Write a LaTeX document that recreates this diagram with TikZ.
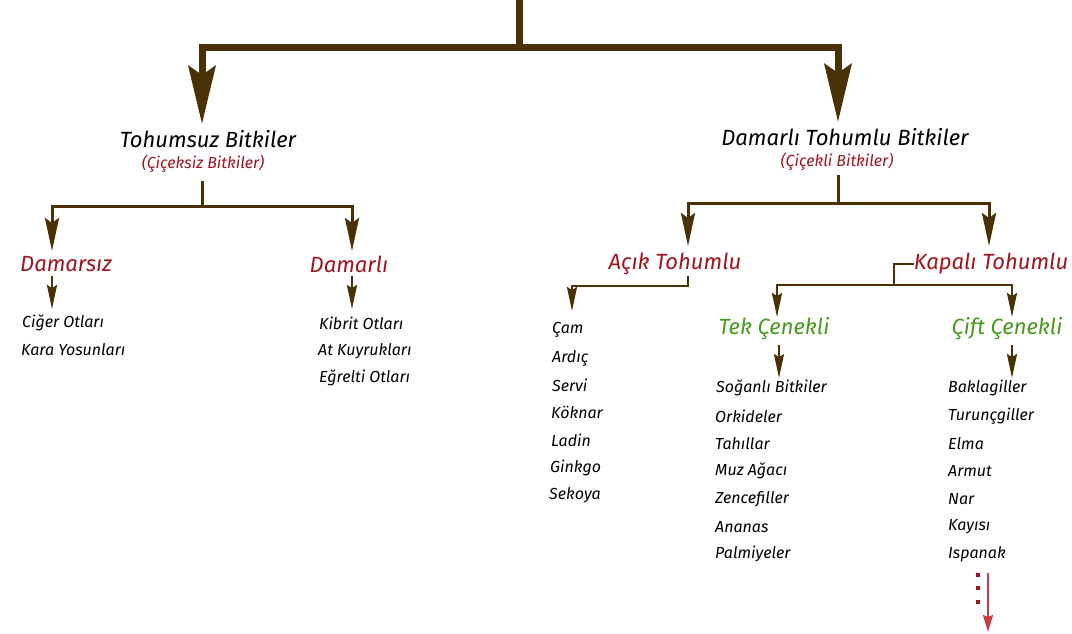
\documentclass[tikz,border=0pt]{standalone}
\usepackage{fontspec}
\setmainfont{Fira Sans}
\usetikzlibrary{arrows.meta}
\definecolor{brn}{HTML}{4B3106}
\definecolor{rd}{HTML}{A0141E}
\definecolor{gr}{HTML}{479A1C}
\definecolor{lrd}{HTML}{C4403F}
\tikzset{
  fsz/.style={font=\fontsize{#1}{#1}\selectfont\itshape},
  head/.style={fsz=22, text=black, inner sep=0pt},
  sub/.style={fsz=16, text=rd, inner sep=0pt},
  cat/.style={fsz=22, text=rd, inner sep=0pt},
  grn/.style={fsz=22, text=gr, inner sep=0pt},
  item/.style={fsz=16, text=black, inner sep=0pt, anchor=west},
  bigline/.style={draw=brn, line width=7pt, line join=miter},
  bigarr/.style={bigline, -{Stealth[length=58pt,width=27pt,inset=9pt]}},
  midline/.style={draw=brn, line width=3pt},
  midarr/.style={midline, -{Stealth[length=33pt,width=14pt,inset=5pt]}},
  smline/.style={draw=brn, line width=2.2pt},
  smarr/.style={smline, -{Stealth[length=24pt,width=10pt,inset=3pt]}},
}
\begin{document}
\begin{tikzpicture}[x=1pt,y=-1pt]
\useasboundingbox (0,0) rectangle (1072,633);
% level 1
\node[head] (tb) at (208,139) {Tohumsuz Bitkiler};
\node[sub]  (tbs) at (203,164) {(Çiçeksiz Bitkiler)};
\node[head] (dt) at (845,137) {Damarlı Tohumlu Bitkiler};
\node[sub]  (dts) at (837,162) {(Çiçekli Bitkiler)};
% level 2
\node[cat] (dz) at (66,264) {Damarsız};
\node[cat] (dl) at (349,264) {Damarlı};
\node[cat] (ac) at (675,264) {Açık Tohumlu};
\node[cat] (kp) at (991,264) {Kapalı Tohumlu};
% level 3
\node[grn] (tk) at (774,329) {Tek Çenekli};
\node[grn] (cf) at (1007,329) {Çift Çenekli};
% top connectors
\coordinate (root) at (519,0);
\coordinate (hub) at (519,47);
\coordinate (tbtip) at (202,124);
\coordinate (dttip) at (838,122);
\draw[bigline] (root) -- (hub);
\draw[bigarr] (hub) -| (tbtip);
\draw[bigarr] (hub) -| (dttip);
% under Tohumsuz
\coordinate (tbtop) at (202,181);
\coordinate (tbhub) at (202,206);
\coordinate (dztip) at (52,251);
\coordinate (dltip) at (352,251);
\draw[midline] (tbtop) -- (tbhub);
\draw[midarr] (tbhub) -| (dztip);
\draw[midarr] (tbhub) -| (dltip);
% under Damarli Tohumlu
\coordinate (dttop) at (838,175);
\coordinate (dthub) at (838,203);
\coordinate (actip) at (688,246);
\coordinate (kptip) at (989,246);
\draw[midline] (dttop) -- (dthub);
\draw[midarr] (dthub) -| (actip);
\draw[midarr] (dthub) -| (kptip);
% Acik -> list
\coordinate (acs) at (688,276);
\coordinate (acb) at (688,286);
\coordinate (actip2) at (572,311);
\draw[smarr] (acs) -- (acb) -| (actip2);
% Kapali -> Tek / Cift
\coordinate (kpl) at (894,264);
\coordinate (kpb) at (894,285);
\coordinate (tktip) at (777,317);
\coordinate (cftip) at (1012,317);
\draw[smline] (kp.west) -- (kpl) -- (kpb);
\draw[smarr] (kpb) -| (tktip);
\draw[smarr] (kpb) -| (cftip);
% small arrows to lists
\coordinate (dz1) at (52,276); \coordinate (dz2) at (52,309);
\coordinate (dl1) at (352,276); \coordinate (dl2) at (352,309);
\coordinate (tk1) at (779,345); \coordinate (tk2) at (779,378);
\coordinate (cf1) at (1012,345); \coordinate (cf2) at (1012,378);
\draw[smarr] (dz1) -- (dz2);
\draw[smarr] (dl1) -- (dl2);
\draw[smarr] (tk1) -- (tk2);
\draw[smarr] (cf1) -- (cf2);
% lists
\node[item] (a1) at (22,323) {Ciğer Otları};
\node[item] (a2) at (21,350) {Kara Yosunları};
\node[item] (b1) at (319,323) {Kibrit Otları};
\node[item] (b2) at (318,351) {At Kuyrukları};
\node[item] (b3) at (319,378) {Eğrelti Otları};
\node[item] (c1) at (552,330) {Çam};
\node[item] (c2) at (552,358) {Ardıç};
\node[item] (c3) at (552,385) {Servi};
\node[item] (c4) at (551,412) {Köknar};
\node[item] (c5) at (551,440) {Ladin};
\node[item] (c6) at (550,468) {Ginkgo};
\node[item] (c7) at (549,495) {Sekoya};
\node[item] (d1) at (716,388) {Soğanlı Bitkiler};
\node[item] (d2) at (715,416) {Orkideler};
\node[item] (d3) at (715,444) {Tahıllar};
\node[item] (d4) at (715,471) {Muz Ağacı};
\node[item] (d5) at (715,499) {Zencefiller};
\node[item] (d6) at (715,527) {Ananas};
\node[item] (d7) at (715,554) {Palmiyeler};
\node[item] (e1) at (948,388) {Baklagiller};
\node[item] (e2) at (948,416) {Turunçgiller};
\node[item] (e3) at (948,444) {Elma};
\node[item] (e4) at (948,471) {Armut};
\node[item] (e5) at (948,499) {Nar};
\node[item] (e6) at (948,527) {Kayısı};
\node[item] (e7) at (948,554) {Ispanak};
% continuation
\fill[rd] (976,573) rectangle (980,577);
\fill[rd] (976,586) rectangle (980,590);
\fill[rd] (976,600) rectangle (980,604);
\coordinate (ct1) at (988,573);
\coordinate (ct2) at (988,632);
\draw[lrd, line width=2pt, -{Stealth[length=17pt,width=10pt,inset=2pt]}] (ct1) -- (ct2);
\end{tikzpicture}
\end{document}
